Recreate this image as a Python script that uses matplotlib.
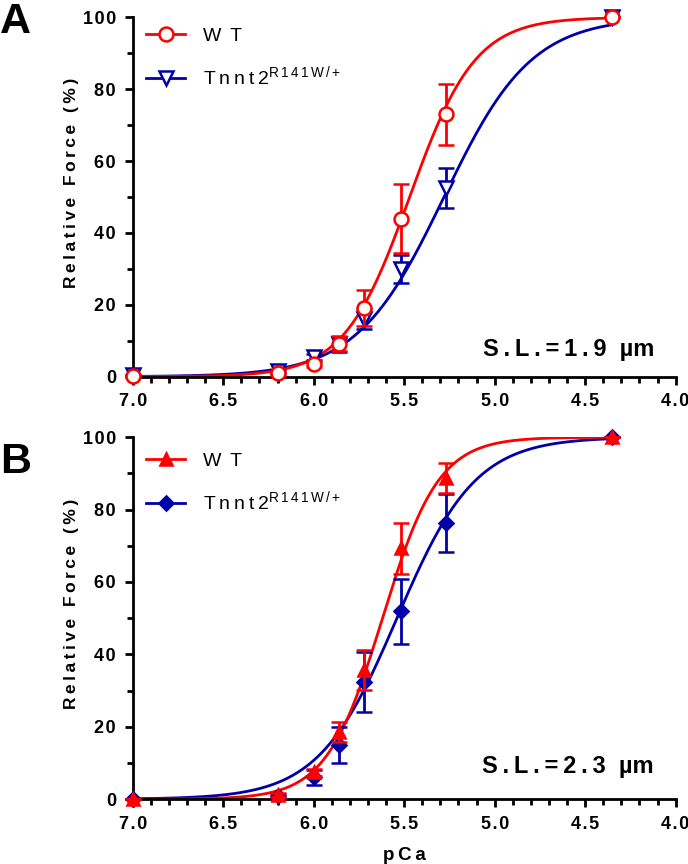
import matplotlib
matplotlib.use('Agg')
import matplotlib.pyplot as plt
import numpy as np
from matplotlib.ticker import MultipleLocator, FuncFormatter

plt.rcParams['font.family'] = ['Liberation Sans', 'DejaVu Sans']
plt.rcParams['mathtext.fontset'] = 'custom'
plt.rcParams['mathtext.rm'] = 'Liberation Sans'

RED = '#ff0000'
BLUE = '#0000a8'
TS = '\u2009'  # thin space for the letter-spaced look
HS = '\u200a'  # hair space

# measured points (pCa)
pca = [7.0, 6.2, 6.0, 5.86, 5.72, 5.52, 5.27, 4.35]

# panel A, S.L. = 1.9 um
wt_a = [0.3, 1.0, 3.6, 9.2, 19.0, 44.0, 73.0, 100.0]
wt_a_err = [0, 0.5, 0.8, 2.0, 5.0, 9.6, 8.5, 0]
mut_a = [0.5, 1.5, 5.5, 9.0, 16.0, 30.0, 52.5, 100.0]
mut_a_err = [0, 0.5, 0.8, 2.0, 2.8, 3.8, 5.5, 0]

# panel B, S.L. = 2.3 um
wt_b = [0.0, 1.2, 7.4, 18.5, 35.6, 69.3, 88.7, 100.0]
wt_b_err = [0, 0.5, 1.0, 2.8, 5.5, 7.0, 4.2, 0]
mut_b = [0.0, 0.8, 6.0, 15.0, 32.3, 51.9, 76.2, 100.0]
mut_b_err = [0, 0.5, 2.2, 5.0, 8.3, 9.0, 8.0, 0]

# Hill fits (pCa50, nH)
fit_wt_a = (5.47, 2.4)
fit_mut_a = (5.28, 1.8)
fit_wt_b = (5.62, 2.8)
fit_mut_b = (5.54, 2.0)


def hill(x, p50, nh):
    return 100.0 / (1 + 10 ** (nh * (x - p50)))


def spaced(s, sep=TS):
    return sep.join(s)


fig = plt.figure(figsize=(6.88, 8.64), dpi=100)
ax_a = fig.add_axes([0.193, 0.564, 0.789, 0.416])
ax_b = fig.add_axes([0.193, 0.075, 0.789, 0.419])

xs = np.linspace(7.0, 4.35, 400)
mut_label = 'T' + TS + 'n' + TS + 'n' + TS + 't' + TS + '2$^{\\mathrm{R\\,1\\,4\\,1\\,W\\,/+}}$'

panels = [
    (ax_a, wt_a, wt_a_err, mut_a, mut_a_err, fit_wt_a, fit_mut_a,
     dict(marker='o', mfc='white', ms=10), dict(marker='v', mfc='white', ms=10),
     '1.9', 1.01, 0.075),
    (ax_b, wt_b, wt_b_err, mut_b, mut_b_err, fit_wt_b, fit_mut_b,
     dict(marker='^', mfc=RED, ms=9), dict(marker='D', mfc=BLUE, ms=7),
     '2.3', 0.995, 0.09),
]

for ax, wt, wte, mut, mute, fw, fm, mk_w, mk_m, sl, leg_y, sl_y in panels:
    ax.plot(xs, hill(xs, *fm), color=BLUE, lw=2, zorder=2)
    ax.plot(xs, hill(xs, *fw), color=RED, lw=2, zorder=2)
    ax.errorbar(pca, mut, yerr=mute, ls='none', color=BLUE, elinewidth=2,
                capsize=6, capthick=2, mec=BLUE, mew=1.8, clip_on=False,
                zorder=3, **mk_m)
    ax.errorbar(pca, wt, yerr=wte, ls='none', color=RED, elinewidth=2,
                capsize=6, capthick=2, mec=RED, mew=1.8, clip_on=False,
                zorder=4, **mk_w)

    h1, = ax.plot([], [], color=RED, lw=2, mec=RED, mew=1.8, **mk_w)
    h2, = ax.plot([], [], color=BLUE, lw=2, mec=BLUE, mew=1.8, **mk_m)
    ax.legend([h1, h2], ['W' + TS + ' T', mut_label], loc='upper left',
              bbox_to_anchor=(0.0, leg_y), frameon=False, fontsize=14,
              handlelength=2.0, labelspacing=1.0, borderaxespad=0.3,
              handletextpad=0.9)

    ax.set_xlim(7.0, 4.0)
    ax.set_ylim(0, 100)
    ax.xaxis.set_major_locator(MultipleLocator(0.5))
    ax.xaxis.set_minor_locator(MultipleLocator(0.1))
    ax.yaxis.set_major_locator(MultipleLocator(20))
    ax.yaxis.set_minor_locator(MultipleLocator(10))
    ax.xaxis.set_major_formatter(FuncFormatter(lambda v, p: spaced(f'{v:.1f}', HS)))
    ax.yaxis.set_major_formatter(FuncFormatter(lambda v, p: spaced(f'{v:.0f}', HS)))
    ax.spines[['top', 'right']].set_visible(False)
    ax.spines[['left', 'bottom']].set_linewidth(2)
    ax.tick_params(which='major', length=6, width=2, labelsize=13, pad=6)
    ax.tick_params(which='minor', length=4, width=2)
    for t in ax.get_xticklabels() + ax.get_yticklabels():
        t.set_fontweight('bold')
    ax.set_ylabel(spaced('Relative Force (%)'), fontsize=12.5,
                  fontweight='bold', labelpad=6)
    ax.yaxis.set_label_coords(-0.1, 0.54)
    ax.text(0.96, sl_y, 'S' + TS + '.' + TS + 'L' + TS + '.' + TS + '=' + TS
            + TS.join(sl) + '  \u00b5m', transform=ax.transAxes, ha='right',
            va='center', fontsize=17, fontweight='bold')

fig.text(0.0, 0.998, 'A', fontsize=31, fontweight='bold', va='top', ha='left')
fig.text(0.0, 0.488, 'B', fontsize=31, fontweight='bold', va='top', ha='left')

ax_b.set_xlabel(spaced('pCa'), fontsize=13.5, fontweight='bold', labelpad=10)

fig.savefig('out.png', dpi=100)
